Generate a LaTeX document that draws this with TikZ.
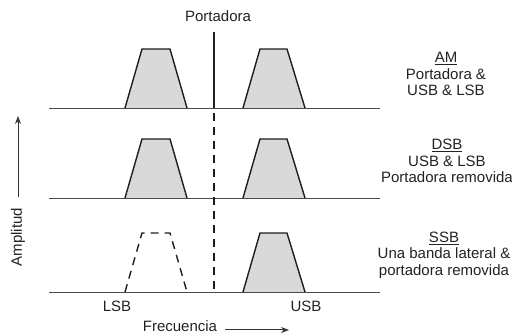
\documentclass[tikz,border=0pt]{standalone}
\usepackage{fontspec}
\setmainfont{Liberation Sans}
\usetikzlibrary{arrows.meta}
\definecolor{txt}{HTML}{222222}
\definecolor{ln}{HTML}{1E1E1E}
\definecolor{bandfill}{HTML}{D9D9D9}
\begin{document}
\begin{tikzpicture}[x=1pt,y=-1pt,
  lbl/.style={font=\fontsize{15}{16.5}\selectfont,text=txt,inner sep=0pt,align=center},
  baseln/.style={draw=ln!80,line width=0.9pt},
  band/.style={draw=ln,line width=1.4pt,fill=bandfill,line join=miter},
  dband/.style={draw=ln,line width=1.4pt,dash pattern=on 8pt off 6pt},
  carrier/.style={draw=ln,line width=2.2pt},
  dcarrier/.style={draw=ln,line width=2.4pt,dash pattern=on 8pt off 6pt},
  axarrow/.style={draw=ln!90,line width=1pt,-{Stealth[length=8pt,width=6pt]}}]
\useasboundingbox (0,0) rectangle (512,336);
% baselines
\foreach \yb/\n in {108/a,198/b,292/c}{
  \coordinate (bl\n) at (49,\yb);
  \coordinate (br\n) at (380,\yb);
  \draw[baseln] (bl\n) -- (br\n);
}
% bands row 1 and 2
\foreach \yb in {108,198}{
  \draw[band] (125,\yb) -- (142,\yb-59) -- (170,\yb-59) -- (187,\yb);
  \draw[band] (243,\yb) -- (260,\yb-59) -- (287,\yb-59) -- (305,\yb);
}
% row 3
\draw[dband] (125,292) -- (142,233) -- (170,233) -- (187,292);
\draw[band] (243,292) -- (260,233) -- (287,233) -- (305,292);
% carrier
\coordinate (ctop) at (214,32);
\coordinate (cbot) at (214,108);
\draw[carrier] (ctop) -- (cbot);
\coordinate (dtop) at (214,113);
\coordinate (dbot) at (214,292);
\draw[dcarrier] (dtop) -- (dbot);
% labels
\node[lbl] (port) at (218,16) {Portadora};
\node[lbl] (am) at (446,74) {\underline{AM}\\Portadora \&\\USB \& LSB};
\node[lbl] (dsb) at (447,161) {\underline{DSB}\\USB \& LSB\\Portadora removida};
\node[lbl] (ssb) at (444,255) {\underline{SSB}\\Una banda lateral \&\\portadora removida};
\node[lbl] (lsb) at (117,306) {LSB};
\node[lbl] (usb) at (306,306) {USB};
\node[lbl] (frec) at (180,326) {Frecuencia};
\node[lbl,rotate=90] (amp) at (18,237) {Amplitud};
% axis arrows
\coordinate (fa) at (225,330);
\coordinate (fb) at (289,330);
\draw[axarrow] (fa) -- (fb);
\coordinate (aa) at (18,197);
\coordinate (ab) at (18,116);
\draw[axarrow] (aa) -- (ab);
\end{tikzpicture}
\end{document}
